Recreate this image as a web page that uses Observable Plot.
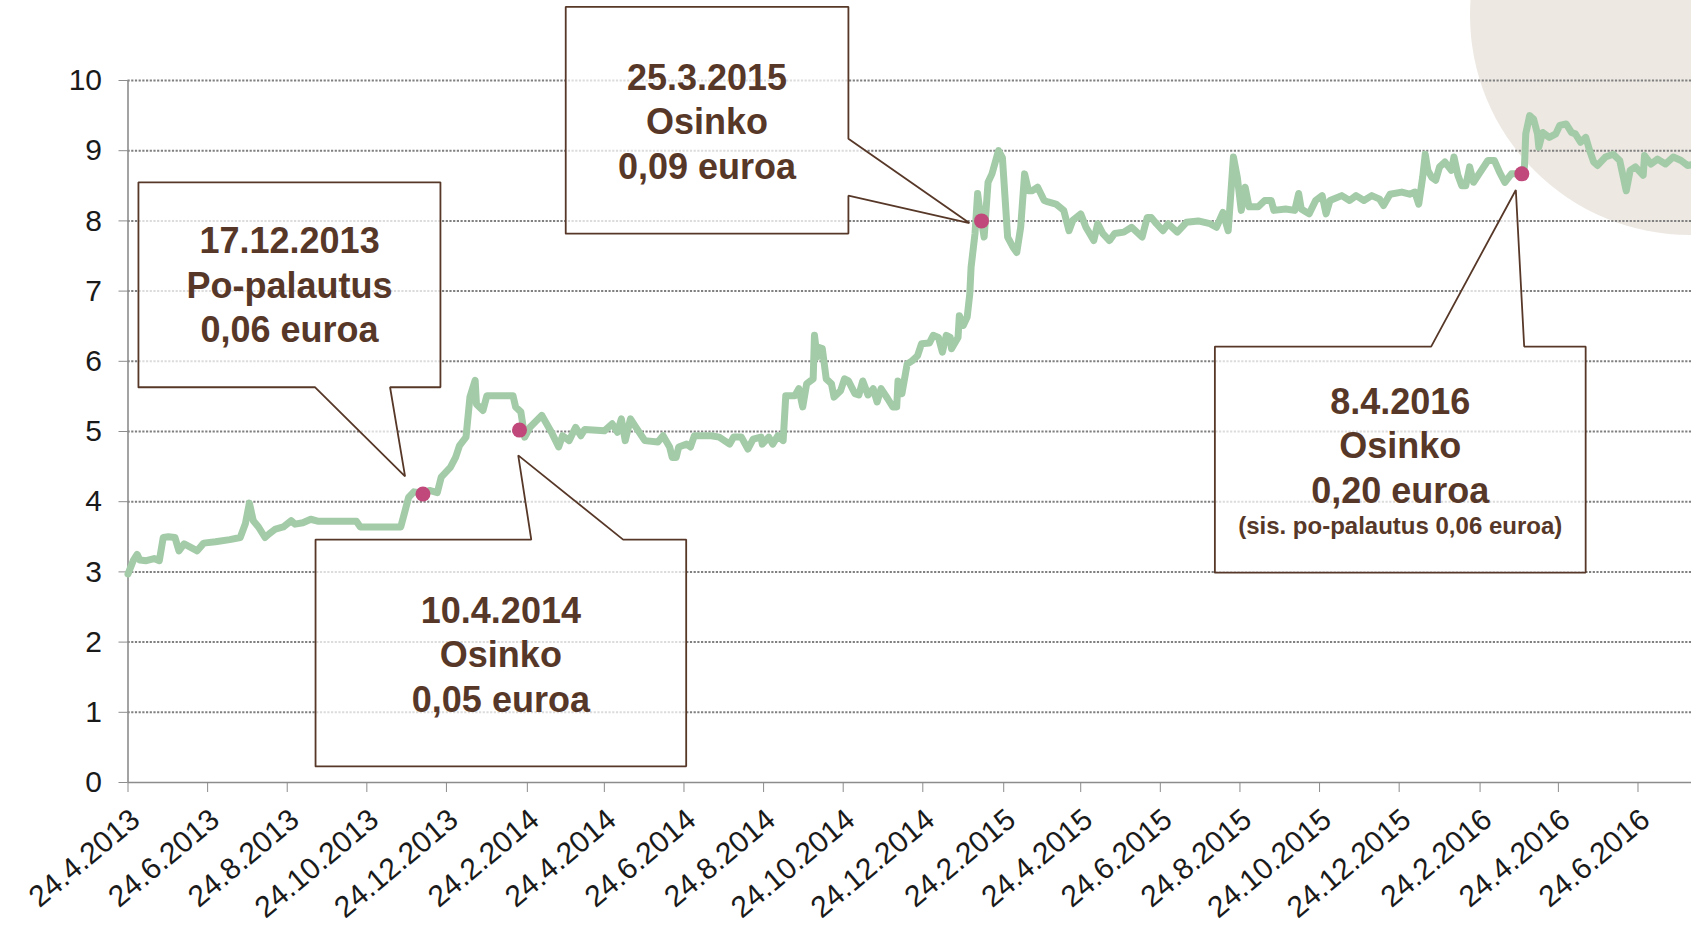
<!DOCTYPE html>
<html>
<head>
<meta charset="utf-8">
<script src="https://cdn.jsdelivr.net/npm/d3@7"></script>
<script src="https://cdn.jsdelivr.net/npm/@observablehq/plot@0.6"></script>
<style>
html, body { margin: 0; padding: 0; background: #fff; overflow: hidden; }
#wrap { position: relative; width: 1691px; height: 931px; overflow: hidden; font-family: "Liberation Sans", Arial, sans-serif; }
#blob { position: absolute; left: 1470px; top: -205px; width: 440px; height: 440px; border-radius: 50%; background: #ede8e2; }
#chart { position: absolute; left: 0; top: 0; }
</style>
</head>
<body>
<div id="wrap"><div id="blob"></div><div id="chart"></div></div>
<script>
// ---------------- data ----------------
const startDate = "2013-04-24";
const endDate = "2016-08-04";

// days after 24.4.2013 and share price (euro)
const dayOffsets = [
  0, 4, 7, 9, 14, 20, 24, 27, 31, 36, 39, 43, 47, 53, 58, 67, 78, 86, 90, 93,
  96, 100, 105, 108, 113, 119, 125, 128, 134, 140, 146, 175, 178, 209, 212, 215, 219, 226, 231, 237,
  240, 247, 251, 254, 259, 262, 266, 267, 272, 275, 295, 297, 301, 304, 308, 317, 325, 330, 333, 338,
  343, 347, 350, 365, 371, 375, 378, 381, 385, 391, 396, 406, 410, 415, 417, 420, 422, 428, 431, 434,
  447, 453, 461, 464, 470, 475, 479, 485, 486, 491, 494, 498, 502, 504, 511, 514, 517, 520, 525, 526,
  528, 529, 532, 535, 539, 541, 546, 549, 552, 557, 560, 563, 567, 571, 574, 577, 582, 586, 589, 590,
  593, 597, 601, 605, 608, 614, 617, 621, 624, 627, 630, 631, 636, 637, 640, 643, 645, 646, 649, 651,
  653, 656, 659, 662, 667, 670, 671, 674, 678, 681, 684, 687, 690, 693, 697, 702, 705, 711, 717, 721,
  724, 730, 734, 740, 743, 747, 752, 756, 763, 769, 777, 781, 784, 788, 793, 797, 804, 811, 820, 829,
  834, 839, 843, 847, 850, 853, 856, 859, 866, 871, 876, 878, 887, 894, 897, 899, 905, 910, 915, 918,
  921, 930, 936, 941, 947, 953, 959, 962, 967, 976, 982, 986, 989, 992, 994, 996, 999, 1002, 1005, 1009,
  1014, 1016, 1019, 1022, 1025, 1028, 1031, 1037, 1042, 1047, 1051, 1055, 1060, 1066, 1070, 1071, 1074, 1077, 1080, 1081,
  1084, 1089, 1094, 1097, 1102, 1106, 1109, 1113, 1117, 1120, 1123, 1126, 1132, 1138, 1143, 1148, 1151, 1155, 1161, 1162,
  1167, 1172, 1178, 1184, 1190, 1195, 1198
];
const prices = [
  2.97, 3.16, 3.25, 3.17, 3.16, 3.19, 3.16, 3.49, 3.50, 3.49, 3.30, 3.40, 3.36, 3.30, 3.41, 3.43, 3.46, 3.49, 3.69, 3.98,
  3.73, 3.64, 3.49, 3.54, 3.61, 3.64, 3.73, 3.68, 3.70, 3.75, 3.72, 3.72, 3.64, 3.64, 3.85, 4.06, 4.14, 4.12, 4.16, 4.13,
  4.35, 4.49, 4.63, 4.80, 4.92, 5.49, 5.73, 5.39, 5.30, 5.51, 5.51, 5.35, 5.28, 4.92, 5.06, 5.23, 4.97, 4.78, 4.94, 4.87,
  5.06, 4.94, 5.03, 5.01, 5.11, 4.99, 5.18, 4.87, 5.18, 5.01, 4.87, 4.85, 4.94, 4.78, 4.63, 4.63, 4.78, 4.82, 4.78, 4.94,
  4.94, 4.92, 4.82, 4.92, 4.92, 4.75, 4.89, 4.92, 4.82, 4.92, 4.82, 4.94, 4.87, 5.51, 5.51, 5.61, 5.35, 5.68, 5.75, 6.37,
  6.06, 6.20, 6.18, 5.75, 5.68, 5.49, 5.58, 5.75, 5.72, 5.54, 5.52, 5.72, 5.52, 5.61, 5.42, 5.61, 5.47, 5.35, 5.35, 5.72,
  5.54, 5.96, 6.01, 6.08, 6.25, 6.26, 6.37, 6.34, 6.13, 6.37, 6.34, 6.18, 6.34, 6.65, 6.51, 6.63, 6.96, 7.34, 7.82, 8.39,
  8.10, 7.77, 8.55, 8.67, 9.00, 8.90, 8.62, 7.77, 7.63, 7.55, 7.91, 8.67, 8.43, 8.43, 8.48, 8.29, 8.27, 8.24, 8.15, 7.86,
  8.01, 8.10, 7.91, 7.72, 7.96, 7.82, 7.72, 7.82, 7.84, 7.91, 7.77, 8.05, 8.05, 7.96, 7.86, 7.96, 7.84, 7.98, 8.00, 7.96,
  7.91, 8.12, 7.86, 8.91, 8.62, 8.15, 8.48, 8.20, 8.20, 8.29, 8.29, 8.15, 8.17, 8.15, 8.39, 8.17, 8.10, 8.29, 8.36, 8.10,
  8.29, 8.36, 8.29, 8.36, 8.29, 8.36, 8.31, 8.22, 8.38, 8.41, 8.38, 8.41, 8.24, 8.62, 8.95, 8.72, 8.62, 8.58, 8.77, 8.84,
  8.72, 8.91, 8.65, 8.50, 8.50, 8.77, 8.55, 8.72, 8.86, 8.86, 8.69, 8.55, 8.67, 8.67, 8.77, 9.24, 9.50, 9.45, 9.24, 9.05,
  9.26, 9.19, 9.24, 9.36, 9.38, 9.26, 9.24, 9.12, 9.19, 9.00, 8.84, 8.79, 8.91, 8.95, 8.86, 8.43, 8.72, 8.77, 8.65, 8.93,
  8.81, 8.88, 8.81, 8.91, 8.86, 8.79, 8.80
];

const tickDates = [
  "2013-04-24", "2013-06-24", "2013-08-24", "2013-10-24", "2013-12-24",
  "2014-02-24", "2014-04-24", "2014-06-24", "2014-08-24", "2014-10-24", "2014-12-24",
  "2015-02-24", "2015-04-24", "2015-06-24", "2015-08-24", "2015-10-24", "2015-12-24",
  "2016-02-24", "2016-04-24", "2016-06-24"
];
const yTicks = [0, 1, 2, 3, 4, 5, 6, 7, 8, 9, 10];

// distribution events (marker dots)
const eventDates = ["2013-12-06", "2014-02-18", "2015-02-07", "2016-03-27"];
const eventPrices = [4.11, 5.02, 8.00, 8.67];

// callout texts
const calloutTexts = [
  "17.12.2013\nPo-palautus\n0,06 euroa",
  "10.4.2014\nOsinko\n0,05 euroa",
  "25.3.2015\nOsinko\n0,09 euroa",
  "8.4.2016\nOsinko\n0,20 euroa"
];
const calloutNote = "(sis. po-palautus 0,06 euroa)";

// ---------------- annotation layout (data space: [days after start, euro]) ----------------
const calloutOutlines = [
  [[8.0, 5.63], [8.0, 8.55], [239.4, 8.55], [239.4, 5.63], [200.8, 5.63], [212.3, 4.36], [143.4, 5.63], [8.0, 5.63]],
  [[143.7, 0.23], [143.7, 3.46], [309, 3.46], [299, 4.66], [379.4, 3.46], [427.7, 3.46], [427.7, 0.23], [143.7, 0.23]],
  [[335.4, 7.82], [335.4, 11.05], [552, 11.05], [552, 9.17], [644.7, 7.97], [552, 8.36], [552, 7.82], [335.4, 7.82]],
  [[832.8, 2.99], [832.8, 6.21], [998.5, 6.21], [1063.4, 8.44], [1069.8, 6.21], [1116.9, 6.21], [1116.9, 2.99], [832.8, 2.99]]
];
const calloutTextAt = [[123.8, 6.272], [285.7, 1.007], [443.7, 8.60], [974.8, 3.984]];
const calloutNoteAt = [974.8, 3.543];

// ---------------- build ----------------
const start = new Date(startDate);
const toDate = d => new Date(+start + d * 864e5);
const series = dayOffsets.map((d, i) => ({date: toDate(d), price: prices[i]}));
const events = eventDates.map((d, i) => ({date: new Date(d), price: eventPrices[i]}));
const outlinePts = calloutOutlines.flatMap((pts, id) => pts.map(([d, v]) => ({id, date: toDate(d), value: v})));
const labels = calloutTextAt.map(([d, v], i) => ({date: toDate(d), value: v, text: calloutTexts[i]}));
const notes = [{date: toDate(calloutNoteAt[0]), value: calloutNoteAt[1], text: calloutNote}];
const ticks = tickDates.map(d => new Date(d));
const fmt = d3.utcFormat("%-d.%-m.%Y");

const brown = "#573828";
const axisGray = "#8c8c8c";

const plot = Plot.plot({
  width: 1691,
  height: 931,
  marginLeft: 127.5,
  marginRight: 0,
  marginTop: 80,
  marginBottom: 149,
  style: {background: "transparent", fontFamily: "'Liberation Sans', Arial, sans-serif", overflow: "visible"},
  x: {type: "utc", domain: [new Date(startDate), new Date(endDate)]},
  y: {domain: [0, 10]},
  marks: [
    Plot.gridY(yTicks.filter(v => v > 0), {stroke: "#808080", strokeOpacity: 1, strokeWidth: 2, strokeDasharray: "2.2,1.5"}),
    Plot.ruleY([0], {stroke: axisGray, strokeWidth: 1.6}),
    Plot.ruleX([new Date(startDate)], {y1: 0, y2: 10, stroke: axisGray, strokeWidth: 1.6}),
    Plot.axisY(yTicks, {tickSize: 9, tickPadding: 17, fontSize: 30, stroke: axisGray, color: "#1a1a1a", label: null, tickFormat: d => String(d)}),
    Plot.axisX(ticks, {tickSize: 10, tickFormat: () => "", stroke: axisGray, label: null}),
    Plot.text(ticks, {x: d => d, frameAnchor: "bottom", text: d => fmt(d), rotate: -40, textAnchor: "end", lineAnchor: "top", dy: 24, dx: 0, fontSize: 30, fill: "#1a1a1a"}),
    Plot.line(series, {x: "date", y: "price", stroke: "#a3cba8", strokeWidth: 7, strokeLinejoin: "round", strokeLinecap: "round"}),
    Plot.line(outlinePts, {x: "date", y: "value", z: "id", fill: "white", fillOpacity: 0.72, stroke: brown, strokeWidth: 1.8, strokeLinejoin: "miter"}),
    Plot.dot(events, {x: "date", y: "price", r: 7.5, fill: "#c0487a", stroke: null}),
    Plot.text(labels, {x: "date", y: "value", text: "text", lineAnchor: "bottom", lineHeight: 1.236, fontSize: 36, fontWeight: "bold", fill: brown}),
    Plot.text(notes, {x: "date", y: "value", text: "text", lineAnchor: "bottom", fontSize: 24, fontWeight: "bold", fill: brown})
  ]
});
document.getElementById("chart").appendChild(plot);
</script>
</body>
</html>
